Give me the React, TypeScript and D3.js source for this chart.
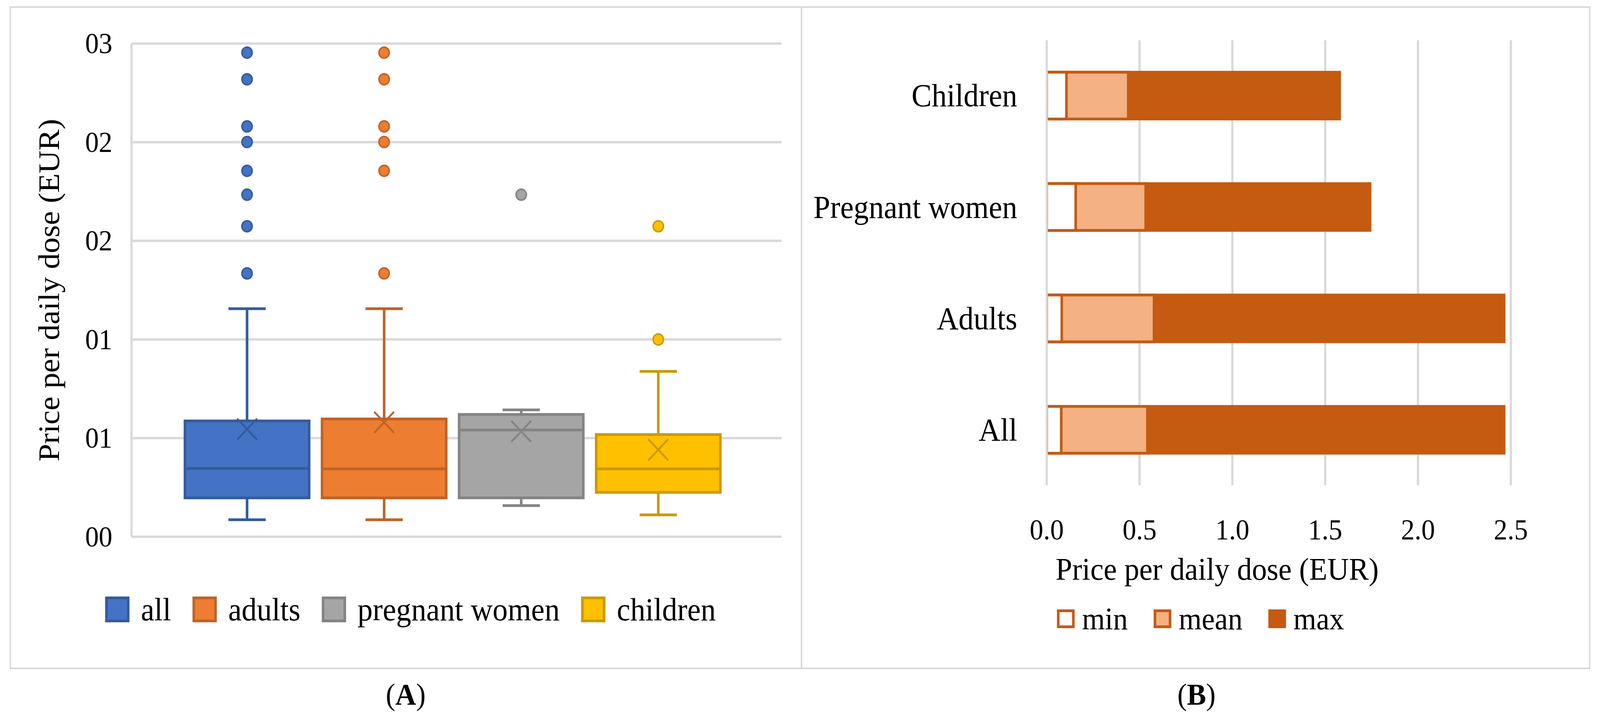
import React from "react";
import * as d3 from "d3";

// ---- panel A : box plot ----
const series = ["all", "adults", "pregnant women", "children"];
const whiskerLow = [0.086, 0.086, 0.158, 0.111];
const q1 = [0.197, 0.197, 0.197, 0.225];
const median = [0.346, 0.344, 0.541, 0.344];
const q3 = [0.587, 0.597, 0.62, 0.518];
const whiskerHigh = [1.156, 1.156, 0.643, 0.838];
const means = [0.545, 0.58, 0.534, 0.441];
const outliers = [
	[2.454, 2.319, 2.08, 2.001, 1.855, 1.734, 1.574, 1.335],
	[2.454, 2.319, 2.08, 2.001, 1.855, 1.335],
	[1.734],
	[1.574, 1.0],
];
const boxTicks = [0, 0.5, 1, 1.5, 2, 2.5];

// ---- panel B : min / mean / max bars ----
const groups = ["Children", "Pregnant women", "Adults", "All"];
const minVals = [0.106, 0.156, 0.081, 0.078];
const meanVals = [0.439, 0.533, 0.578, 0.542];
const maxVals = [1.578, 1.742, 2.464, 2.464];
const barKeys = ["min", "mean", "max"];
const barTicks = [0, 0.5, 1, 1.5, 2, 2.5];

const fills = ["#4472C4", "#ED7D31", "#A5A5A5", "#FFC000"];
const strokes = ["#345C9C", "#BF6328", "#848484", "#C99A00"];
const barFill: Record<string, string> = { min: "#FFFFFF", mean: "#F4B183", max: "#C55A11" };
const barStroke = "#C55A11";
const grid = "#D9D9D9";

const W = 4342;
const H = 1838;
const FONT = '"Liberation Serif", "Times New Roman", serif';

const measure = (() => {
	const ctx = document.createElement("canvas").getContext("2d");
	return (txt: string, size: number) => {
		if (!ctx) return txt.length * size * 0.45;
		ctx.font = `${size}px "Liberation Serif"`;
		return ctx.measureText(txt).width;
	};
})();

const BoxPanel: React.FC = () => {
	const L = { x0: 357, x1: 2121, y0: 111.5, y1: 1374 };
	const y = d3.scaleLinear().domain([0, 2.5]).range([L.y1, L.y0]);
	const x = d3
		.scaleBand()
		.domain(series)
		.range([L.x0, L.x1])
		.paddingInner(0.094)
		.paddingOuter(0.418)
		.align(0.466);
	const bw = x.bandwidth();
	const cap = bw * 0.3;
	const fmt = (v: number) => String(Math.round(v)).padStart(2, "0");

	// legend layout
	const lgSize = 82;
	const sq = 66;
	const items = series.map((s) => ({ s, w: sq + 31 + measure(s, lgSize) }));
	const total = d3.sum(items, (d) => d.w) + 58 * (items.length - 1);
	let cursor = 1114 - total / 2;
	const legendPos = items.map((d) => {
		const p = cursor;
		cursor += d.w + 58;
		return p;
	});

	return (
		<g>
			<rect x={28} y={18} width={2147} height={1693} fill="none" stroke={grid} strokeWidth={4} />
			{boxTicks.map((t) => (
				<line key={t} x1={L.x0} x2={L.x1} y1={y(t)} y2={y(t)} stroke={grid} strokeWidth={6} />
			))}
			<line x1={L.x0} x2={L.x0} y1={L.y0} y2={L.y1} stroke={grid} strokeWidth={6} />
			{boxTicks.map((t) => (
				<text
					key={"t" + t}
					x={305}
					y={y(t)}
					textAnchor="end"
					dominantBaseline="central"
					fontSize={74}
					fontFamily={FONT}
				>
					{fmt(t)}
				</text>
			))}
			<text
				transform={`translate(133,${(L.y0 + L.y1) / 2}) rotate(-90)`}
				textAnchor="middle"
				dominantBaseline="central"
				fontSize={81}
				fontFamily={FONT}
			>
				Price per daily dose (EUR)
			</text>
			{series.map((s, i) => {
				const x0 = x(s) as number;
				const cx = x0 + bw / 2;
				const c = strokes[i];
				return (
					<g key={s}>
						<line x1={cx} x2={cx} y1={y(whiskerHigh[i])} y2={y(q3[i])} stroke={c} strokeWidth={7} />
						<line x1={cx} x2={cx} y1={y(q1[i])} y2={y(whiskerLow[i])} stroke={c} strokeWidth={7} />
						<line x1={cx - cap / 2} x2={cx + cap / 2} y1={y(whiskerHigh[i])} y2={y(whiskerHigh[i])} stroke={c} strokeWidth={7} />
						<line x1={cx - cap / 2} x2={cx + cap / 2} y1={y(whiskerLow[i])} y2={y(whiskerLow[i])} stroke={c} strokeWidth={7} />
						<rect
							x={x0}
							y={y(q3[i])}
							width={bw}
							height={y(q1[i]) - y(q3[i])}
							fill={fills[i]}
							stroke={c}
							strokeWidth={7}
						/>
						<line x1={x0} x2={x0 + bw} y1={y(median[i])} y2={y(median[i])} stroke={c} strokeWidth={7} />
						<path
							d={`M${cx - 27},${y(means[i]) - 27}L${cx + 27},${y(means[i]) + 27}M${cx - 27},${y(means[i]) + 27}L${cx + 27},${y(means[i]) - 27}`}
							stroke={c}
							strokeWidth={5}
							fill="none"
						/>
						{outliers[i].map((v, k) => (
							<circle key={k} cx={cx} cy={y(v)} r={14} fill={fills[i]} stroke={c} strokeWidth={4} />
						))}
					</g>
				);
			})}
			{series.map((s, i) => (
				<g key={"lg" + s} transform={`translate(${legendPos[i]},1560)`}>
					<rect x={3.5} y={-sq / 2 + 3.5} width={sq - 7} height={sq - 7} fill={fills[i]} stroke={strokes[i]} strokeWidth={7} />
					<text x={sq + 31} y={0} dominantBaseline="central" fontSize={lgSize} fontFamily={FONT}>
						{s}
					</text>
				</g>
			))}
			<text x={1101} y={1777} textAnchor="middle" dominantBaseline="central" fontSize={78} fontFamily={FONT}>
				(<tspan fontWeight="bold">A</tspan>)
			</text>
		</g>
	);
};

const BarPanel: React.FC = () => {
	const R = { x0: 2840.6, x1: 4100, y0: 103, y1: 1242 };
	const x = d3.scaleLinear().domain([0, 2.5]).range([R.x0, R.x1]);
	const y = d3.scaleBand().domain(groups).range([R.y0, R.y1]).paddingInner(0.58).paddingOuter(0.287);
	const bh = y.bandwidth();
	const values: Record<string, number[]> = { min: minVals, mean: meanVals, max: maxVals };
	const fmt = d3.format(".1f");

	const lgSize = 80;
	const sq = 48;
	const items = barKeys.map((k) => ({ k, w: sq + 20 + measure(k, lgSize) }));
	const total = d3.sum(items, (d) => d.w) + 70 * (items.length - 1);
	let cursor = 3258 - total / 2;
	const legendPos = items.map((d) => {
		const p = cursor;
		cursor += d.w + 70;
		return p;
	});

	return (
		<g>
			<defs>
				<clipPath id="barclip">
					<rect x={R.x0 + 3} y={0} width={R.x1 - R.x0 + 200} height={H} />
				</clipPath>
			</defs>
			<rect x={2175} y={18} width={2139} height={1693} fill="none" stroke={grid} strokeWidth={4} />
			{barTicks.map((t) => (
				<line key={t} x1={x(t)} x2={x(t)} y1={R.y0} y2={R.y1} stroke={grid} strokeWidth={6} />
			))}
			<g clipPath="url(#barclip)">
				{groups.map((g, i) =>
					["max", "mean", "min"].map((k) => (
						<rect
							key={g + k}
							x={x(0)}
							y={y(g) as number}
							width={x(values[k][i]) - x(0)}
							height={bh}
							fill={barFill[k]}
							stroke={barStroke}
							strokeWidth={7}
						/>
					))
				)}
			</g>
			{groups.map((g) => (
				<text
					key={"c" + g}
					x={R.x0 - 80}
					y={(y(g) as number) + bh / 2}
					textAnchor="end"
					dominantBaseline="central"
					fontSize={82}
					fontFamily={FONT}
				>
					{g}
				</text>
			))}
			{barTicks.map((t) => (
				<text
					key={"t" + t}
					x={x(t)}
					y={1356}
					textAnchor="middle"
					dominantBaseline="central"
					fontSize={74}
					fontFamily={FONT}
				>
					{fmt(t)}
				</text>
			))}
			<text x={3303} y={1457} textAnchor="middle" dominantBaseline="central" fontSize={81} fontFamily={FONT}>
				Price per daily dose (EUR)
			</text>
			{barKeys.map((k, i) => (
				<g key={"lg" + k} transform={`translate(${legendPos[i]},1584)`}>
					<rect x={3.5} y={-sq / 2 + 3.5} width={sq - 7} height={sq - 7} fill={barFill[k]} stroke={barStroke} strokeWidth={7} />
					<text x={sq + 20} y={0} dominantBaseline="central" fontSize={lgSize} fontFamily={FONT}>
						{k}
					</text>
				</g>
			))}
			<text x={3247} y={1777} textAnchor="middle" dominantBaseline="central" fontSize={78} fontFamily={FONT}>
				(<tspan fontWeight="bold">B</tspan>)
			</text>
		</g>
	);
};

const App: React.FC = () => {
	return (
		<>
			<style>{`html,body{margin:0;padding:0;overflow:hidden;background:#fff}`}</style>
			<svg
				viewBox={`0 0 ${W} ${H}`}
				preserveAspectRatio="none"
				style={{ display: "block", width: "100vw", height: "100vh" }}
			>
				<rect width={W} height={H} fill="#fff" />
				<BoxPanel />
				<BarPanel />
			</svg>
		</>
	);
};

export default App;
